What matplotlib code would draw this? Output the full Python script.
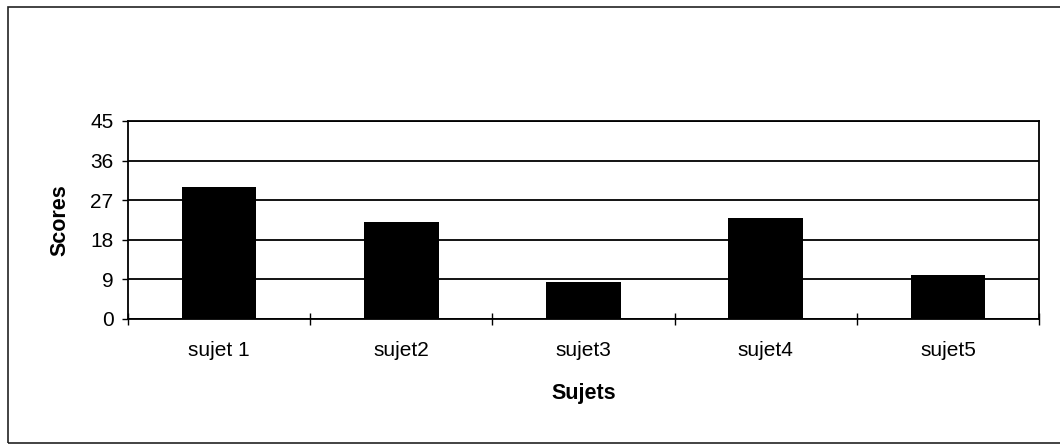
import matplotlib
matplotlib.use("Agg")
import matplotlib.pyplot as plt
from matplotlib.patches import Rectangle

# Scores per subject
sujets = ["sujet 1", "sujet2", "sujet3", "sujet4", "sujet5"]
scores = [30, 22, 8.5, 23, 10]
y_ticks = [0, 9, 18, 27, 36, 45]

plt.rcParams["font.family"] = ["Liberation Sans", "DejaVu Sans"]

fig = plt.figure(figsize=(10.6, 4.46), dpi=100)
fig.patch.set_facecolor("white")

# Outer chart frame (open on the right side)
fig.add_artist(Rectangle((8 / 1060, 3 / 446), 1.2, 436 / 446,
                         transform=fig.transFigure, fill=False,
                         edgecolor="#222222", linewidth=1.2))

ax = fig.add_axes([0.1208, 0.2848, 0.8594, 0.4439])

positions = list(range(1, len(sujets) + 1))
ax.bar(positions, scores, width=0.41, color="black", zorder=3)

ax.set_xlim(0.5, len(sujets) + 0.5)
ax.set_ylim(0, 45)

ax.set_yticks(y_ticks)
ax.set_yticklabels([str(v) for v in y_ticks])
ax.yaxis.grid(True, color="black", linewidth=1.3, zorder=1)
ax.set_axisbelow(True)

# Major ticks at category boundaries, labels at category centres
ax.set_xticks([p - 0.5 for p in positions] + [len(sujets) + 0.5])
ax.set_xticklabels([])
ax.set_xticks(positions, minor=True)
ax.set_xticklabels(sujets, minor=True)

ax.tick_params(axis="x", which="major", direction="inout", length=9,
               width=1.0, color="black")
ax.tick_params(axis="x", which="minor", length=0, pad=16, labelsize=15)
ax.tick_params(axis="y", which="major", direction="out", length=4.5,
               width=1.0, pad=6, labelsize=15)

for side in ["left", "bottom", "right", "top"]:
    ax.spines[side].set_color("black")
    ax.spines[side].set_linewidth(1.3)

ax.set_ylabel("Scores", fontsize=15.5, fontweight="bold")
ax.yaxis.set_label_coords(-0.0746, 0.5)
ax.set_xlabel("Sujets", fontsize=15.5, fontweight="bold")
ax.xaxis.set_label_coords(0.5, -0.374)
ax.xaxis.label.set_va("center")
ax.yaxis.label.set_va("center")

fig.savefig("out.png", dpi=100, facecolor="white")
